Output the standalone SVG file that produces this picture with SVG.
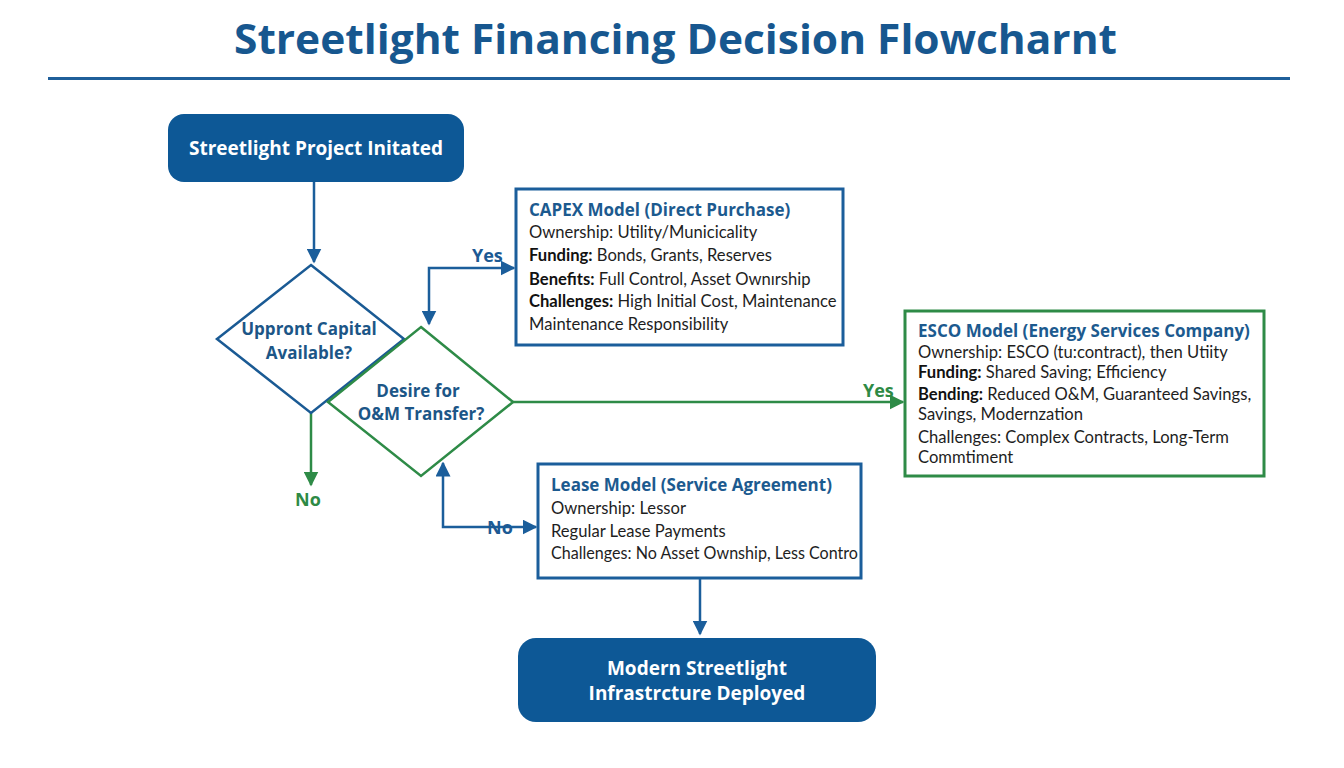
<svg xmlns="http://www.w3.org/2000/svg" width="1344" height="768" viewBox="0 0 1344 768">
<defs>
<style>
.title{font-family:"Open Sans","Liberation Sans",sans-serif;font-weight:700;font-size:42px;fill:#17578f}
.term{fill:#0d5896}
.termtxt{font-family:"Open Sans","Liberation Sans",sans-serif;font-weight:700;font-size:19px;fill:#ffffff;text-anchor:middle}
.dtxt{font-family:"Open Sans","Liberation Sans",sans-serif;font-weight:700;font-size:17px;fill:#1c5687;text-anchor:middle}
.box{fill:#ffffff;stroke-width:3}
.bh{font-family:"Open Sans","Liberation Sans",sans-serif;font-weight:700;font-size:17px;fill:#1c5a8f}
.bt{font-family:"Lato","Liberation Sans",sans-serif;font-size:16.6px;fill:#1e1e1e}
.b{font-weight:700;fill:#111111}
.lblB{font-family:"Open Sans","Liberation Sans",sans-serif;font-weight:700;font-size:18px;fill:#1c5a94}
.lblG{font-family:"Open Sans","Liberation Sans",sans-serif;font-weight:700;font-size:18px;fill:#2e8a45}
.cb{fill:none;stroke:#1b5e9b;stroke-width:2.5}
.cg{fill:none;stroke:#2e8b47;stroke-width:2.5}
</style>
<marker id="ab" viewBox="0 0 10 10" refX="9" refY="5" markerWidth="6" markerHeight="6" orient="auto-start-reverse" markerUnits="strokeWidth"><path d="M0,0 L10,5 L0,10 z" fill="#1b5e9b"/></marker>
<marker id="ag" viewBox="0 0 10 10" refX="9" refY="5" markerWidth="6" markerHeight="6" orient="auto-start-reverse" markerUnits="strokeWidth"><path d="M0,0 L10,5 L0,10 z" fill="#2e8b47"/></marker>
</defs>
<rect width="1344" height="768" fill="#ffffff"/>
<g id="title">
<text class="title" x="234" y="54" textLength="883" lengthAdjust="spacingAndGlyphs">Streetlight Financing Decision Flowcharnt</text>
<rect x="48" y="77" width="1242" height="3" fill="#1f5f9a"/>
</g>
<g id="connectors">
<path class="cb" d="M314,182 V262" marker-end="url(#ab)"/>
<path class="cg" d="M311,413 V485" marker-end="url(#ag)"/>
<path class="cb" d="M429,324 V268 H514" marker-start="url(#ab)" marker-end="url(#ab)"/>
<path class="cg" d="M513,402 H903" marker-end="url(#ag)"/>
<path class="cb" d="M443,463 V527 H536" marker-start="url(#ab)" marker-end="url(#ab)"/>
<path class="cb" d="M700,578 V634" marker-end="url(#ab)"/>
<text class="lblB" x="472" y="262">Yes</text>
<text class="lblG" x="295" y="506">No</text>
<text class="lblG" x="863" y="397">Yes</text>
<text class="lblB" x="487" y="534">No</text>
</g>
<g id="start">
<rect class="term" x="168" y="114" width="296" height="68" rx="16"/>
<text class="termtxt" x="316" y="155">Streetlight Project Initated</text>
</g>
<g id="decision1">
<polygon points="311,265 404,339 311,413 217,339" fill="#ffffff" stroke="#1a5a94" stroke-width="2.5"/>
<text class="dtxt" x="309" y="335">Uppront Capital</text>
<text class="dtxt" x="309" y="359">Available?</text>
</g>
<g id="decision2">
<polygon points="421,327 513,402 421,476 328,402" fill="#ffffff" stroke="#2e8b47" stroke-width="2.5"/>
<text class="dtxt" x="418" y="397">Desire for</text>
<text class="dtxt" x="421" y="420">O&amp;M Transfer?</text>
</g>
<g id="capex">
<rect class="box" x="516" y="189" width="327" height="156" stroke="#1b5e9b"/>
<text class="bh" x="529" y="216">CAPEX Model (Direct Purchase)</text>
<text class="bt" x="529" y="238">Ownership: Utility/Municicality</text>
<text class="bt" x="529" y="261"><tspan class="b">Funding:</tspan>  Bonds, Grants, Reserves</text>
<text class="bt" x="529" y="285"><tspan class="b">Benefits:</tspan> Full Control, Asset Ownırship</text>
<text class="bt" x="529" y="307"><tspan class="b">Challenges:</tspan> High Initial Cost, Maintenance</text>
<text class="bt" x="529" y="330">Maintenance Responsibility</text>
</g>
<g id="esco">
<rect class="box" x="905" y="311" width="359" height="165" stroke="#2e8b47"/>
<text class="bh" x="918" y="337">ESCO Model (Energy Services Company)</text>
<text class="bt" x="918" y="358">Ownership: ESCO (tu:contract), then Utiity</text>
<text class="bt" x="918" y="378"><tspan class="b">Funding:</tspan> Shared Saving; Efficiency</text>
<text class="bt" x="918" y="400"><tspan class="b">Bending:</tspan> Reduced O&amp;M, Guaranteed Savings,</text>
<text class="bt" x="918" y="420">Savings, Modernzation</text>
<text class="bt" x="918" y="443">Challenges: Complex Contracts, Long-Term</text>
<text class="bt" x="918" y="463">Commtiment</text>
</g>
<g id="lease">
<rect class="box" x="538" y="464" width="323" height="114" stroke="#1b5e9b"/>
<text class="bh" x="551" y="491">Lease Model (Service Agreement)</text>
<text class="bt" x="551" y="514">Ownership: Lessor</text>
<text class="bt" x="551" y="537">Regular Lease Payments</text>
<text class="bt" x="551" y="559" textLength="307" lengthAdjust="spacingAndGlyphs">Challenges: No Asset Ownship, Less Contro</text>
</g>
<g id="end">
<rect class="term" x="518" y="638" width="358" height="84" rx="18"/>
<text class="termtxt" x="697" y="675">Modern Streetlight</text>
<text class="termtxt" x="697" y="700">Infrastrcture Deployed</text>
</g>
</svg>
